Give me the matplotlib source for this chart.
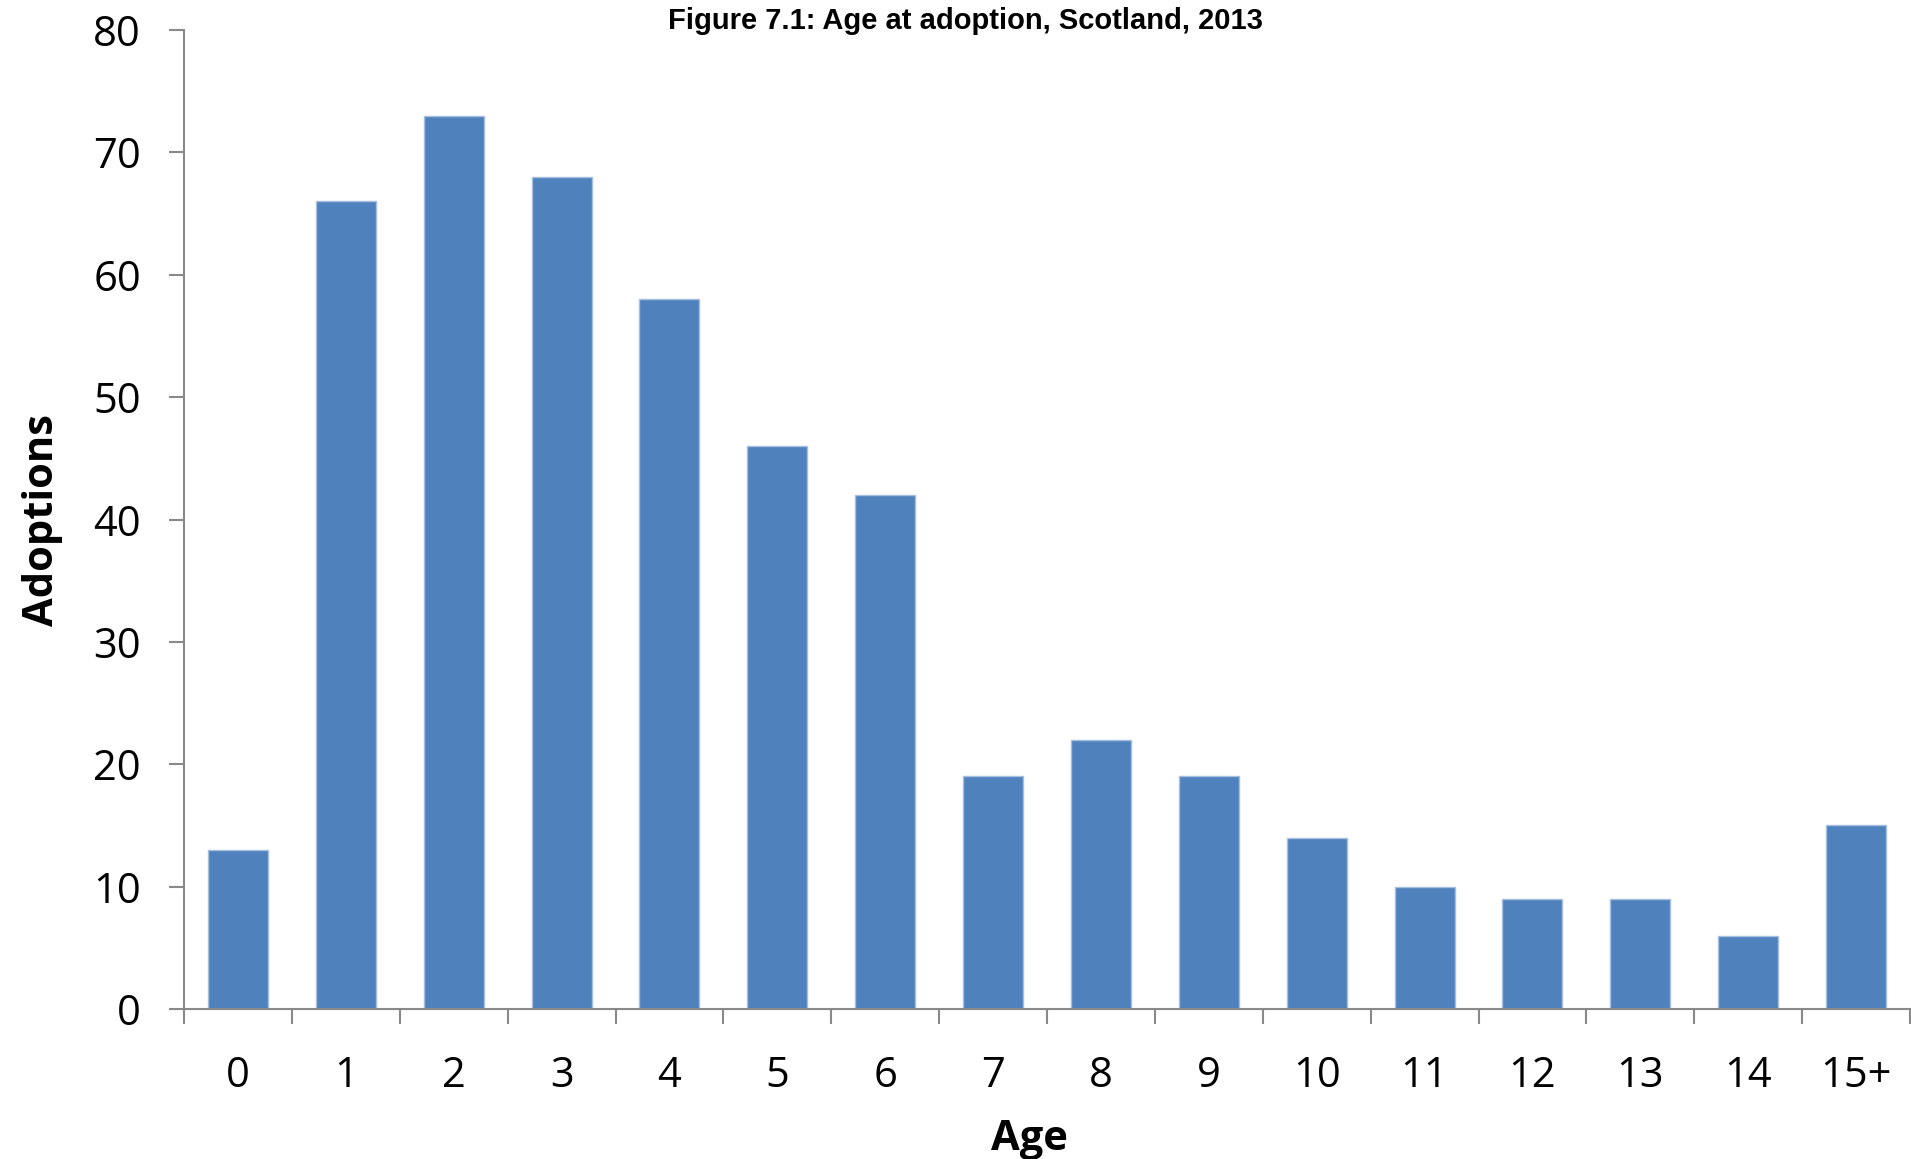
import matplotlib
matplotlib.use("Agg")
import matplotlib.pyplot as plt
import numpy as np

categories = ["0", "1", "2", "3", "4", "5", "6", "7", "8", "9", "10", "11", "12", "13", "14", "15+"]
adoptions = [13, 66, 73, 68, 58, 46, 42, 19, 22, 19, 14, 10, 9, 9, 6, 15]
yticks = [0, 10, 20, 30, 40, 50, 60, 70, 80]

fig = plt.figure(figsize=(19.11, 11.59), dpi=100)
ax = fig.add_axes([184/1911, 1 - 1009/1159, (1910-184)/1911, (1009-30)/1159])

x = np.arange(len(categories))
ax.bar(x, adoptions, width=0.556, color="#4F81BD", edgecolor="#A7BFDE", linewidth=1.0, zorder=2)

ax.set_xlim(-0.5, len(categories) - 0.5)
ax.set_ylim(0, 80)
ax.set_yticks(yticks)
ax.set_yticklabels([str(v) for v in yticks])
ax.set_xticks(x)
ax.set_xticklabels(categories)
ax.set_xticks(np.arange(-0.5, len(categories), 1.0), minor=True)

gray = "#898989"
for s in ["top", "right"]:
    ax.spines[s].set_visible(False)
for s in ["left", "bottom"]:
    ax.spines[s].set_color(gray)
    ax.spines[s].set_linewidth(1.5)

ax.tick_params(axis="y", direction="out", length=11, width=1.5, color=gray, pad=20, labelsize=30)
ax.tick_params(axis="x", which="major", length=0, pad=33, labelsize=30)
ax.tick_params(axis="x", which="minor", direction="out", length=11, width=1.5, color=gray)
for lab in ax.get_xticklabels() + ax.get_yticklabels():
    lab.set_fontfamily(["Open Sans", "DejaVu Sans"])

ax.set_xlabel("Age", fontsize=30, fontweight="bold", family=["Open Sans", "DejaVu Sans"])
ax.xaxis.set_label_coords(0.490, -0.133)
ax.xaxis.label.set_va("center")
ax.set_ylabel("Adoptions", fontsize=30, fontweight="bold", family=["Open Sans", "DejaVu Sans"], labelpad=22)

fig.text(0.505, 0.982, "Figure 7.1: Age at adoption, Scotland, 2013", ha="center", va="center",
         fontsize=21, fontweight="bold", family=["Liberation Sans", "DejaVu Sans"])

fig.savefig("out.png", dpi=100)
